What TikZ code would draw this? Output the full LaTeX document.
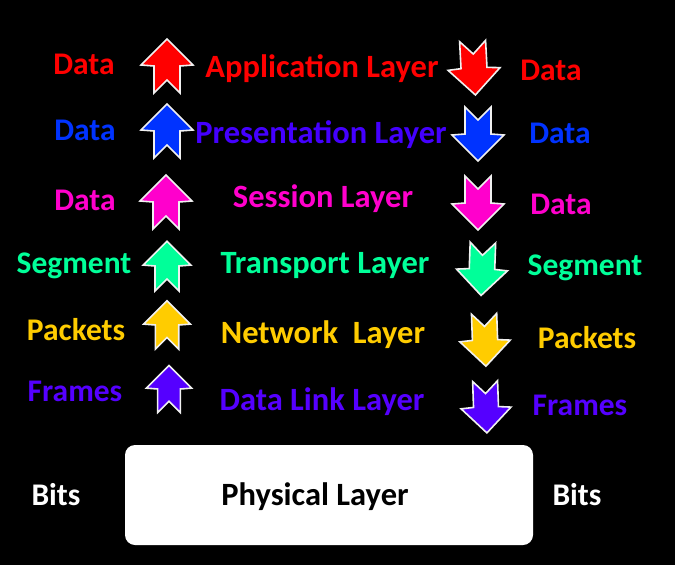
\documentclass[tikz,border=0pt]{standalone}
\usepackage{fontspec}
\setmainfont{Carlito}
\usepackage{xcolor}
\definecolor{lred}{RGB}{255, 0, 0}
\definecolor{lblue}{RGB}{0, 51, 255}
\definecolor{lindigo}{RGB}{68, 0, 255}
\definecolor{lmagenta}{RGB}{255, 0, 204}
\definecolor{lgreen}{RGB}{0, 255, 153}
\definecolor{lgold}{RGB}{255, 204, 0}
\definecolor{lviolet}{RGB}{85, 0, 255}
\usepackage{tikz}
\usetikzlibrary{positioning}

\tikzset{
    lbl/.style={font=\fontsize{31.5}{36}\selectfont\bfseries, anchor=base, inner sep=0pt},
    layerlbl/.style={lbl, font=\fontsize{32.5}{38}\selectfont\bfseries},
    arrowline/.style={draw=white!88!gray, line width=1.6pt, line join=miter},
    pics/notcharrow/.style={code={
        \filldraw[arrowline, fill=#1] (0,-27) -- (26,-1) -- (13,0) -- (13,27) -- (0,14) -- (-13,27) -- (-13,0) -- (-26,-1) -- cycle;
    }},
    physbox/.style={fill=white, rounded corners=10pt, minimum width=408pt, minimum height=100pt, inner sep=0pt},
}

\begin{document}
\begin{tikzpicture}[x=1pt, y=-1pt]
    % Background
    \fill[black] (0,0) rectangle (675,565);

    % Application layer
    \node[lbl, lred] (dataL1) at (84,74) {Data};
    \pic at (167,66) {notcharrow=lred};
    \node[layerlbl, lred] (app) at (322,77) {Application Layer};
    \pic[rotate=183] at (474,68) {notcharrow=lred};
    \node[lbl, lred] (dataR1) at (551,80) {Data};

    % Presentation layer
    \node[lbl, lblue] (dataL2) at (85,140) {Data};
    \pic at (167,131) {notcharrow=lblue};
    \node[layerlbl, lindigo] (pres) at (321,143) {Presentation Layer};
    \pic[rotate=180] at (478,134) {notcharrow=lblue};
    \node[lbl, lblue] (dataR2) at (560,143) {Data};

    % Session layer
    \node[lbl, lmagenta] (dataL3) at (85,210) {Data};
    \pic at (166,202) {notcharrow=lmagenta};
    \node[layerlbl, lmagenta] (sess) at (323,207) {Session Layer};
    \pic[rotate=180] at (478,203) {notcharrow=lmagenta};
    \node[lbl, lmagenta] (dataR3) at (561,214) {Data};

    % Transport layer
    \node[lbl, lgreen] (segL) at (74,273) {Segment};
    \pic[scale=0.92] at (167,266) {notcharrow=lgreen};
    \node[layerlbl, lgreen] (trans) at (325,273) {Transport Layer};
    \pic[rotate=178, scale=0.98] at (482,269) {notcharrow=lgreen};
    \node[lbl, lgreen] (segR) at (585,275) {Segment};

    % Network layer
    \node[lbl, lgold] (pktL) at (76,340) {Packets};
    \pic[scale=0.9] at (167,325) {notcharrow=lgold};
    \node[layerlbl, lgold] (net) at (323,343) {Network~~Layer};
    \pic[rotate=182, scale=0.97] at (485,340) {notcharrow=lgold};
    \node[lbl, lgold] (pktR) at (587,348) {Packets};

    % Data link layer
    \node[lbl, lviolet] (frmL) at (75,401) {Frames};
    \pic[scale=0.87] at (169,389) {notcharrow=lviolet};
    \node[layerlbl, lviolet] (link) at (322,410) {Data Link Layer};
    \pic[rotate=182, scale=0.96] at (486,407) {notcharrow=lviolet};
    \node[lbl, lviolet] (frmR) at (580,415) {Frames};

    % Physical layer
    \node[physbox] (phys) at (329,495) {};
    \node[layerlbl, black] (physlbl) at (315,505) {Physical Layer};
    \node[lbl, white] (bitsL) at (56,505) {Bits};
    \node[lbl, white] (bitsR) at (577,505) {Bits};
\end{tikzpicture}
\end{document}
